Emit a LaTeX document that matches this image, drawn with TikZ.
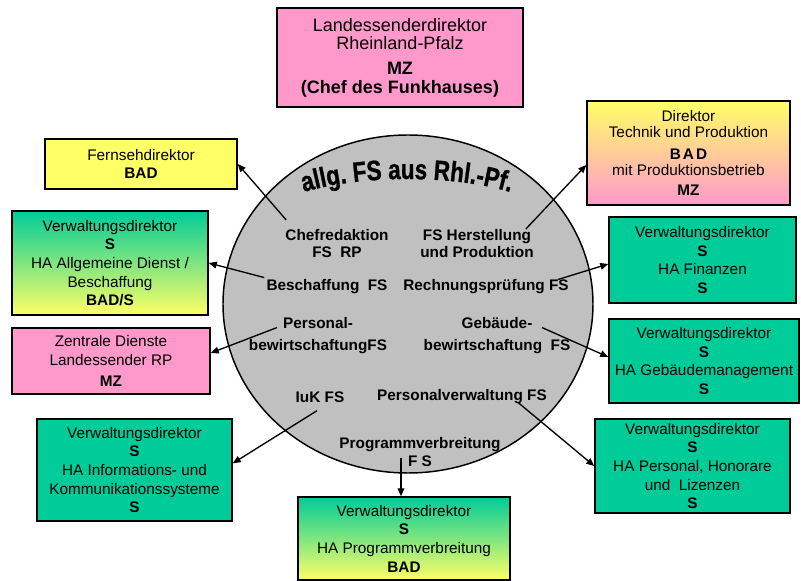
\documentclass[tikz,border=0pt]{standalone}
\usepackage{fontspec}
\setmainfont{Liberation Sans}
\newfontfamily\arcfont[FakeStretch=0.8,FakeBold=1]{Liberation Sans}
\usetikzlibrary{arrows.meta,decorations.text,calc}

\definecolor{boxpink}{RGB}{255,153,204}
\definecolor{boxyellow}{RGB}{255,255,102}
\definecolor{boxteal}{RGB}{0,204,153}
\definecolor{discgray}{RGB}{192,192,192}

\tikzset{
  orgbox/.style={draw=black, line width=1.1pt, align=center, inner sep=0pt,
    font=\fontsize{11.5}{14}\selectfont},
  unit/.style={align=center, inner sep=1.5pt,
    font=\fontsize{11.5}{13}\selectfont\bfseries},
  link/.style={line width=1pt, -{Triangle[length=6pt,width=5pt]}},
  tealyellow/.style={top color=boxteal, bottom color=boxyellow},
  yellowpink/.style={top color=boxyellow, bottom color=boxpink},
}

\begin{document}
\begin{tikzpicture}[x=0.75pt,y=-0.75pt]
\useasboundingbox (0,0) rectangle (801,581);

% central disc with the arched heading
\draw[line width=1.1pt, fill=discgray] (408,304) ellipse [x radius=185, y radius=169];
\path[decorate, decoration={text along path, text align=center,
  text={|\arcfont\bfseries\fontsize{21}{21}\selectfont|allg. FS aus Rhl.-Pf.}}]
  (282,200) .. controls (345,172) and (470,172) .. (532,200);

% units inside the disc
\node[unit] (chef)  at (337,243.5) {Chefredaktion\\FS\ \ RP};
\node[unit] (herst) at (477,243.5) {FS Herstellung\\und Produktion};
\node[unit] (besch) at (327,287) {Beschaffung\ \ FS};
\node[unit] (rech)  at (486,287) {Rechnungsprüfung FS};
\node[unit, font=\fontsize{11.5}{16.5}\selectfont\bfseries] (pers) at (318,336) {Personal-\\bewirtschaftungFS};
\node[unit, font=\fontsize{11.5}{16.5}\selectfont\bfseries] (geb)  at (497,336) {Gebäude-\\bewirtschaftung\ \ FS};
\node[unit] (iuk)   at (320,397) {IuK FS};
\node[unit] (pv)    at (462,397) {Personalverwaltung FS};
\node[unit, font=\fontsize{11.5}{13.5}\selectfont\bfseries] (prog) at (420,452) {Programmverbreitung\\F S};

% boxes around the disc
\node[orgbox, fill=boxpink, minimum width=184.5pt, minimum height=74.25pt,
  font=\fontsize{13.5}{14}\selectfont] (lsd) at (400,57.5)
  {Landessenderdirektor\\Rheinland-Pfalz\\[4.5pt]\textbf{MZ}\\\textbf{(Chef des Funkhauses)}};

\node[orgbox, fill=boxyellow, minimum width=144pt, minimum height=37.5pt] (fern) at (141,164)
  {Fernsehdirektor\\\textbf{BAD}};

\node[orgbox, tealyellow, minimum width=147pt, minimum height=78pt] (allg) at (110,263)
  {Verwaltungsdirektor\\\textbf{S}\\HA Allgemeine Dienst /\\Beschaffung\\\textbf{BAD/S}};

\node[orgbox, fill=boxpink, minimum width=148.5pt, minimum height=49.5pt] (zent) at (111,361)
  {Zentrale Dienste\\Landessender RP\\[2pt]\textbf{MZ}};

\node[orgbox, fill=boxteal, minimum width=146.25pt, minimum height=76.5pt] (iukbox) at (134.5,470)
  {Verwaltungsdirektor\\\textbf{S}\\HA Informations- und\\Kommunikationssysteme\\\textbf{S}};

\node[orgbox, yellowpink, minimum width=152.25pt, minimum height=78pt,
  font=\fontsize{11.5}{12}\selectfont] (tech) at (688.5,153)
  {Direktor\\Technik und Produktion\\[4.5pt]\textbf{B\kern1.5pt A\kern1.5pt D}\\mit Produktionsbetrieb\\[3pt]\textbf{MZ}};

\node[orgbox, fill=boxteal, minimum width=140.25pt, minimum height=64.5pt] (fin) at (702.5,260)
  {Verwaltungsdirektor\\\textbf{S}\\HA Finanzen\\\textbf{S}};

\node[orgbox, fill=boxteal, minimum width=142.5pt, minimum height=63pt] (gebbox) at (704,361)
  {Verwaltungsdirektor\\\textbf{S}\\HA Gebäudemanagement\\\textbf{S}};

\node[orgbox, fill=boxteal, minimum width=146.25pt, minimum height=70.5pt] (persbox) at (692.5,466)
  {Verwaltungsdirektor\\\textbf{S}\\HA Personal, Honorare\\und\ \ Lizenzen\\\textbf{S}};

\node[orgbox, tealyellow, minimum width=159pt, minimum height=62.25pt] (progbox) at (404,538.5)
  {Verwaltungsdirektor\\\textbf{S}\\HA Programmverbreitung\\\textbf{BAD}};

% reporting lines
\draw[link] ($(chef.north west)+(3,-7)$) -- (fern.east);
\draw[link] ($(herst.north east)+(-10,2)$) -- ([yshift=-9pt]tech.west);
\draw[link] (besch.north west) -- (allg.east);
\draw[link] ($(rech.north east)+(-13,2)$) -- ([yshift=-3pt]fin.west);
\draw[link] ($(pers.north)+(-41,12)$) -- ([yshift=6pt]zent.east);
\draw[link] ($(geb.north)+(45,12)$) -- ([yshift=3pt]gebbox.west);
\draw[link] ($(iuk.south)+(-3,6)$) -- ([yshift=5pt]iukbox.east);
\draw[link] ($(pv.south)+(56,-4)$) -- (persbox.west);
\draw[link] ($(prog.south)+(-19,-11)$) coordinate (progstart) -- (progstart |- progbox.north);
\end{tikzpicture}
\end{document}
